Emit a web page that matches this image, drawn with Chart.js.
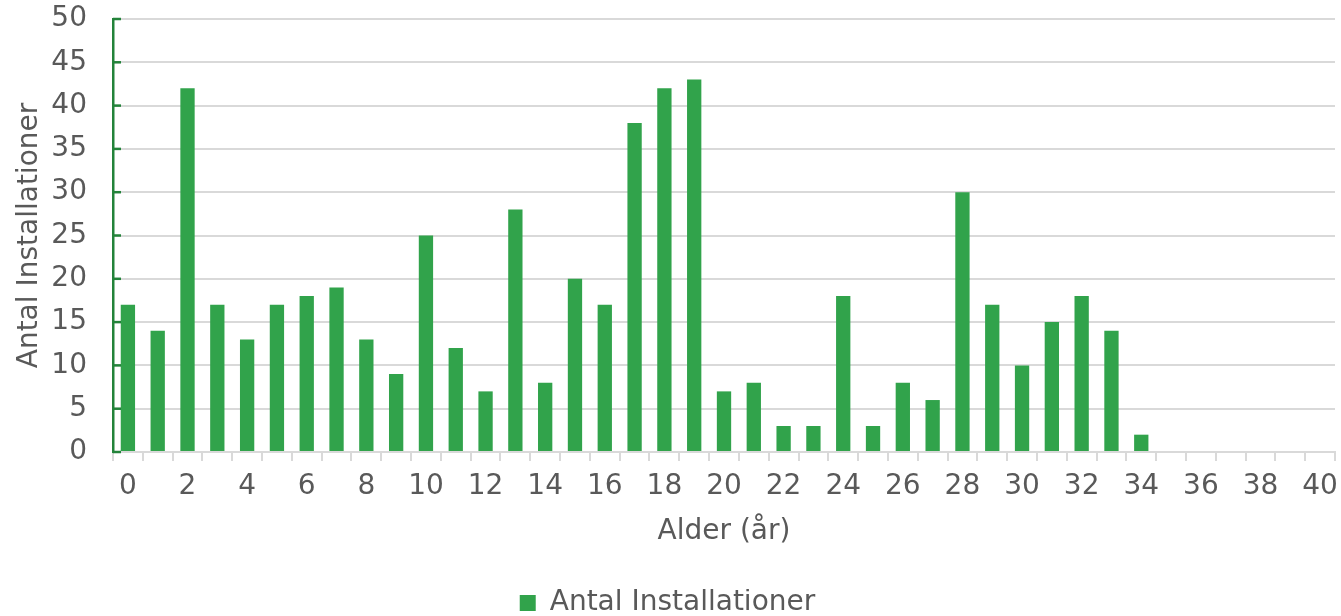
<!DOCTYPE html>
<html>
<head>
<meta charset="utf-8">
<script src="https://cdn.jsdelivr.net/npm/chart.js@4"></script>
<style>
  html, body { margin: 0; padding: 0; background: #fff; }
  #wrap { width: 1341px; height: 616px; }
</style>
</head>
<body>
<div id="wrap"><canvas id="chart" width="1341" height="616"></canvas></div>
<script>
const ages = [];
for (let a = 0; a <= 40; a++) ages.push(String(a));
const installations = [17, 14, 42, 17, 13, 17, 18, 19, 13, 9, 25, 12, 7, 28, 8, 20, 17, 38, 42, 43,
  7, 8, 3, 3, 18, 3, 8, 6, 30, 17, 10, 15, 18, 14, 2, null, null, null, null, null, null];
const yTicks = [0, 5, 10, 15, 20, 25, 30, 35, 40, 45, 50];

const green = '#31a34b';
const axisGreen = '#23833a';
const gridGray = '#d9d9d9';
const textGray = '#595959';
const font = { family: 'DejaVu Sans', size: 28 };

// small inner tick marks on the y axis, Excel style
const innerTicks = {
  id: 'innerTicks',
  afterDatasetsDraw(chart) {
    const { ctx, scales: { y }, chartArea } = chart;
    ctx.save();
    ctx.strokeStyle = axisGreen;
    ctx.lineWidth = 2.5;
    y.ticks.forEach((t) => {
      const py = y.getPixelForValue(t.value);
      ctx.beginPath();
      ctx.moveTo(chartArea.left, py);
      ctx.lineTo(chartArea.left + 8, py);
      ctx.stroke();
    });
    ctx.restore();
  },
};

new Chart(document.getElementById('chart'), {
  type: 'bar',
  data: {
    labels: ages,
    datasets: [{
      label: 'Antal Installationer',
      data: installations,
      backgroundColor: green,
      borderWidth: 0,
      barPercentage: 0.48,
      categoryPercentage: 1,
    }],
  },
  options: {
    responsive: false,
    animation: false,
    layout: { padding: { left: 0, right: 6, top: 19, bottom: -11 } },
    plugins: {
      legend: {
        position: 'bottom',
        labels: {
          font,
          color: textGray,
          boxWidth: 16,
          boxHeight: 16,
          padding: 0,
        },
      },
      tooltip: { enabled: false },
    },
    scales: {
      x: {
        offset: true,
        grid: {
          offset: true,
          drawOnChartArea: false,
          color: gridGray,
          lineWidth: 2,
          tickLength: 9,
        },
        border: { color: gridGray, width: 2 },
        ticks: {
          font,
          color: textGray,
          autoSkip: false,
          maxRotation: 0,
          padding: 9,
          callback: (v, i) => (i % 2 === 0 ? ages[i] : ''),
        },
        title: {
          display: true,
          text: 'Alder (år)',
          font,
          color: textGray,
          padding: { top: 10, bottom: 40 },
        },
        afterFit(scale) {
          scale.height = 137;
          scale.paddingLeft = 0;
          scale.paddingRight = 0;
        },
      },
      y: {
        min: 0,
        max: 50,
        afterBuildTicks(scale) { scale.ticks = yTicks.map((v) => ({ value: v })); },
        grid: { color: gridGray, lineWidth: 2, drawTicks: false },
        border: { color: axisGreen, width: 2.5 },
        ticks: { font, color: textGray, padding: 26 },
        title: {
          display: true,
          text: 'Antal Installationer',
          font,
          color: textGray,
          padding: { top: 13, bottom: 0 },
        },
        afterFit(scale) {
          scale.width = 113;
          scale.paddingTop = 0;
          scale.paddingBottom = 0;
        },
      },
    },
  },
  plugins: [innerTicks],
});
</script>
</body>
</html>
